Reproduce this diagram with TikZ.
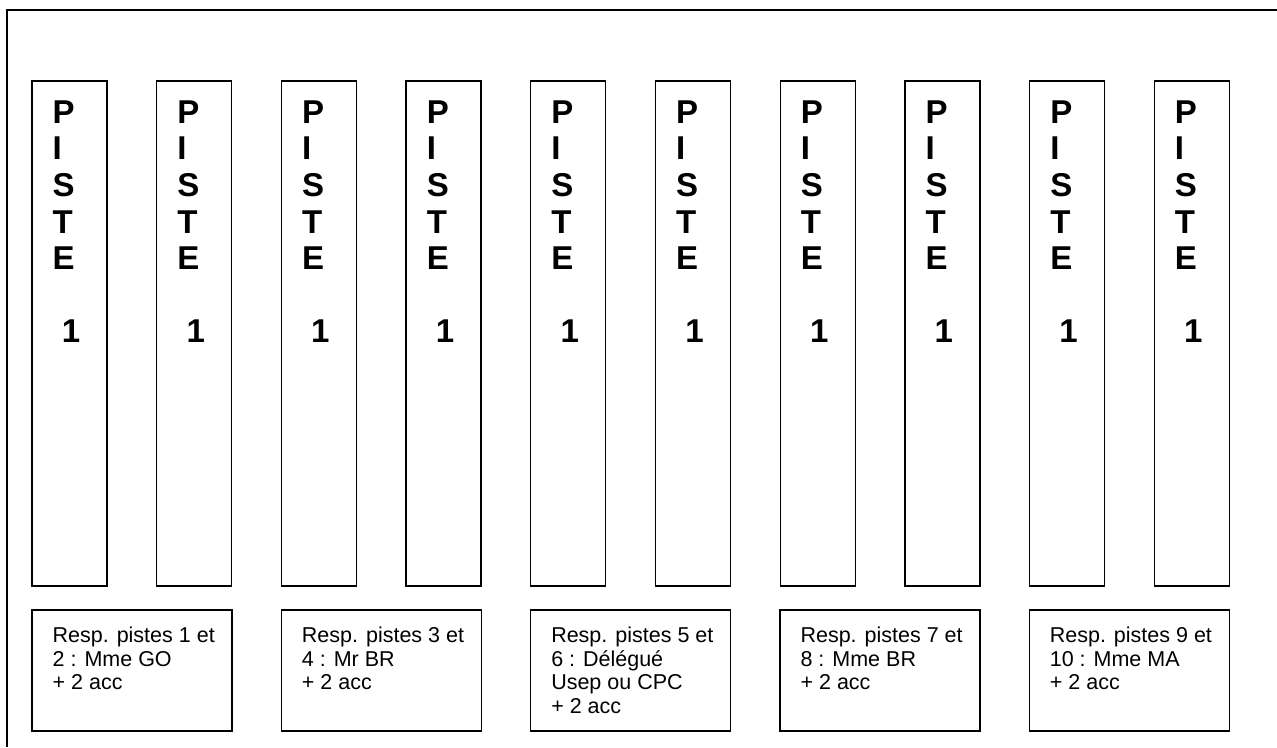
\documentclass[tikz,border=0pt]{standalone}
\usepackage{fontspec}
\setmainfont{Liberation Sans}
\begin{document}
\begin{tikzpicture}[x=1pt,y=-1pt,line width=1.3pt,
  col/.style={draw,minimum width=75pt,minimum height=505pt,inner sep=0pt,outer sep=0pt,anchor=north west},
  resp/.style={draw,minimum width=200pt,minimum height=121pt,inner sep=0pt,outer sep=0pt,anchor=north west},
  piste/.style={font=\fontsize{33}{36.6}\selectfont\bfseries,align=left,inner sep=0pt,anchor=north west},
  resptext/.style={font=\fontsize{21.5}{23.5}\selectfont,align=left,inner sep=0pt,anchor=north west}]
\useasboundingbox (0,0) rectangle (1277,747);
\coordinate (fbl) at (7,747);
\coordinate (ftl) at (7,10);
\coordinate (ftr) at (1277,10);
\draw (fbl) -- (ftl) -- (ftr);
\foreach \i in {1,...,10} {
  \pgfmathsetmacro\xx{32+124.7*(\i-1)}
  \node[col] (c\i) at (\xx,81) {};
  \node[piste] (t\i) at ([shift={(20,19)}]c\i.north west) {P\\I\\S\\T\\E\\[36.6pt]\ 1};
}
\foreach \k/\txt in {1/{Resp. pistes 1 et\\2 : Mme GO\\+ 2 acc},
                     2/{Resp. pistes 3 et\\4 : Mr BR\\+ 2 acc},
                     3/{Resp. pistes 5 et\\6 : Délégué\\Usep ou CPC\\+ 2 acc},
                     4/{Resp. pistes 7 et\\8 : Mme BR\\+ 2 acc},
                     5/{Resp. pistes 9 et\\10 : Mme MA\\+ 2 acc}} {
  \pgfmathsetmacro\bx{32+249.3*(\k-1)}
  \node[resp] (r\k) at (\bx,610) {};
  \node[resptext] (rt\k) at ([shift={(20,16.5)}]r\k.north west) {\txt};
}
\end{tikzpicture}
\end{document}
